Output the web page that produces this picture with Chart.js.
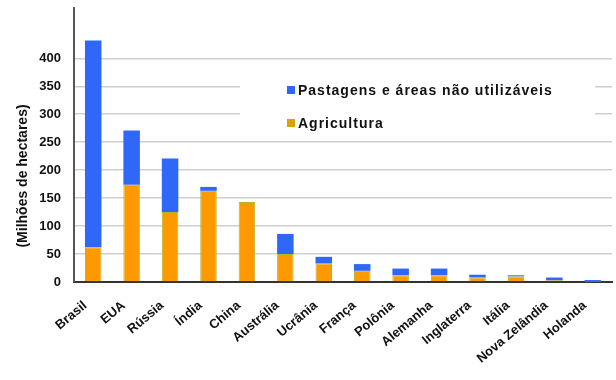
<!DOCTYPE html>
<html>
<head>
<meta charset="utf-8">
<script src="https://cdn.jsdelivr.net/npm/chart.js@4/dist/chart.umd.min.js"></script>
<style>
    html, body { margin: 0; padding: 0; background: #fff; }
    #wrap { width: 616px; height: 380px; position: relative; }
</style>
</head>
<body>
<div id="wrap"><canvas id="chart"></canvas></div>
<script>
const categories = ['Brasil', 'EUA', 'Rússia', 'Índia', 'China', 'Austrália', 'Ucrânia',
    'França', 'Polônia', 'Alemanha', 'Inglaterra', 'Itália', 'Nova Zelândia', 'Holanda'];
const agricultura = [62, 174, 125, 163, 143, 50, 33, 20, 12, 12, 8, 10, 3, 0.5];
const pastagens = [370, 97, 96, 7, 0, 36, 12, 12, 12, 12, 5, 2, 5, 3];
const yTicks = [0, 50, 100, 150, 200, 250, 300, 350, 400];
const yTitle = '(Milhões de hectares)';

const legendBox = {
    id: 'legendBox',
    afterDraw(chart) {
        const ctx = chart.ctx;
        ctx.save();
        ctx.fillStyle = '#fff';
        ctx.fillRect(240, 72, 355, 60);
        ctx.font = 'bold 14px "Liberation Sans", Arial, sans-serif';
        ctx.letterSpacing = '1px';
        ctx.textBaseline = 'middle';
        const items = [chart.data.datasets[1], chart.data.datasets[0]];
        items.forEach((ds, i) => {
            const y = 90 + i * 33;
            ctx.fillStyle = ds.legendColor;
            ctx.fillRect(287, y - 4, 8, 8);
            ctx.fillStyle = '#111';
            ctx.fillText(ds.label, 298, y + 1);
        });
        // y axis title
        ctx.letterSpacing = '0px';
        ctx.translate(23, 176);
        ctx.rotate(-Math.PI / 2);
        ctx.textAlign = 'center';
        ctx.font = 'bold 14px "Liberation Sans", Arial, sans-serif';
        ctx.fillStyle = '#111';
        ctx.fillText(yTitle, 0, 0);
        ctx.restore();
    }
};

const ctx = document.getElementById('chart').getContext('2d');
new Chart(ctx, {
    type: 'bar',
    data: {
        labels: categories,
        datasets: [
            {
                label: 'Agricultura',
                data: agricultura,
                backgroundColor: '#ff9900',
                borderColor: '#b4b428',
                borderWidth: 1,
                legendColor: '#dca400'
            },
            {
                label: 'Pastagens e áreas não utilizáveis',
                data: pastagens,
                backgroundColor: '#2f68f8',
                borderWidth: 0,
                legendColor: '#2f68f8'
            }
        ]
    },
    options: {
        responsive: true,
        maintainAspectRatio: false,
        animation: false,
        layout: {
            padding: { top: 8, right: 4, left: 0, bottom: 0 }
        },
        datasets: {
            bar: {
                barPercentage: 0.43,
                categoryPercentage: 1
            }
        },
        plugins: {
            legend: { display: false },
            tooltip: { enabled: false }
        },
        scales: {
            x: {
                stacked: true,
                grid: { display: false },
                border: { color: '#333', width: 2 },
                ticks: {
                    color: '#111',
                    maxRotation: 40,
                    minRotation: 40,
                    padding: 8,
                    labelOffset: -8,
                    font: { family: '"Liberation Sans", Arial, sans-serif', size: 13, weight: 'bold' }
                },
                afterFit: (scale) => { scale.height = 98; }
            },
            y: {
                stacked: true,
                min: 0,
                max: 490,
                afterBuildTicks: (scale) => {
                    scale.ticks = yTicks.map(v => ({ value: v }));
                },
                grid: {
                    color: '#cfcfcf',
                    lineWidth: 1.5,
                    drawTicks: false
                },
                border: { color: '#555', width: 2 },
                ticks: {
                    color: '#111',
                    padding: 13,
                    font: { family: '"Liberation Sans", Arial, sans-serif', size: 13, weight: 'bold' }
                },
                afterFit: (scale) => {
                    scale.width = 74;
                    scale.paddingTop = 0;
                    scale.paddingBottom = 0;
                }
            }
        }
    },
    plugins: [legendBox]
});
</script>
</body>
</html>
